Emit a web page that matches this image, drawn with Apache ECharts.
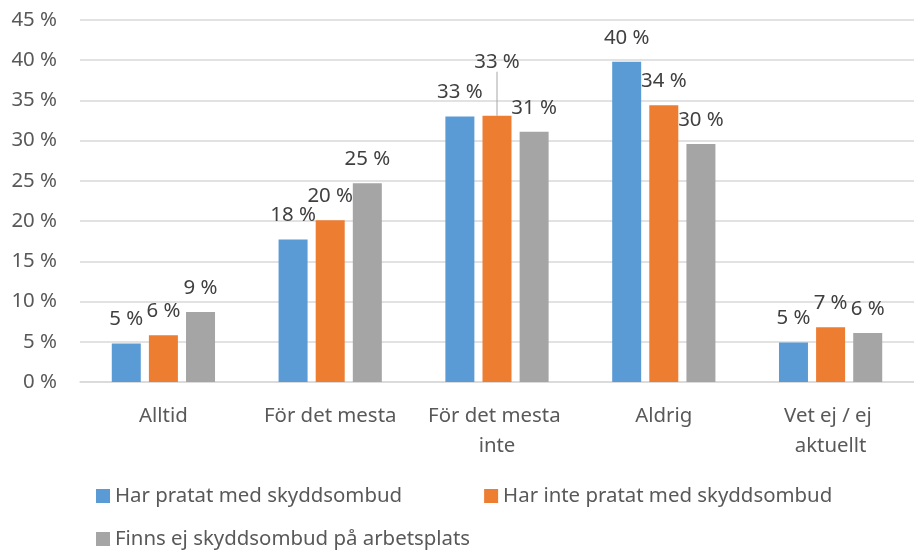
<!DOCTYPE html>
<html>
<head>
<meta charset="utf-8">
<script src="https://cdn.jsdelivr.net/npm/echarts@6/dist/echarts.min.js"></script>
<style>
  html, body { margin: 0; padding: 0; background: #fff; }
  #chart { width: 914px; height: 551px; }
</style>
</head>
<body>
<div id="chart"></div>
<script>
const categories = ['Alltid', 'För det mesta', 'För det mesta inte', 'Aldrig', 'Vet ej / ej aktuellt'];
const seriesNames = [
  'Har pratat med skyddsombud',
  'Har inte pratat med skyddsombud',
  'Finns ej skyddsombud på arbetsplats'
];
const harPratat = [4.8, 17.7, 33.0, 39.8, 4.9];
const harIntePratat = [5.8, 20.1, 33.1, 34.4, 6.8];
const finnsEj = [8.7, 24.7, 31.1, 29.6, 6.1];
const yTicks = [0, 5, 10, 15, 20, 25, 30, 35, 40, 45];

const colors = ['#5b9bd5', '#ed7d31', '#a5a5a5'];
const font = '"Noto Sans", sans-serif';
const textColor = '#595959';
const fs = 20.4;

function makeSeries(name, values, color, extra) {
  return Object.assign({
    name: name,
    type: 'bar',
    data: values,
    barWidth: 29,
    barGap: '28%',
    itemStyle: { color: color },
    label: {
      show: true,
      position: 'top',
      distance: 14,
      fontFamily: font,
      fontSize: fs,
      color: '#404040',
      formatter: p => Math.round(p.value) + ' %'
    },
    labelLine: { show: false }
  }, extra || {});
}

// the orange label in "För det mesta inte" is pushed up with a leader line
const orangeData = harIntePratat.map((v, i) => i === 2
  ? { value: v, labelLine: { show: true, lineStyle: { color: '#a6a6a6', width: 1 } } }
  : v);

const legendText = { fontFamily: font, fontSize: fs, color: textColor };

const chart = echarts.init(document.getElementById('chart'));
chart.setOption({
  animation: false,
  grid: { left: 80, right: 0, top: 20, bottom: 169 },
  legend: [
    {
      data: seriesNames.slice(0, 2),
      left: 96,
      top: 486,
      padding: 0,
      icon: 'rect',
      itemWidth: 14,
      itemHeight: 14,
      itemGap: 82,
      textStyle: legendText
    },
    {
      data: seriesNames.slice(2),
      left: 96,
      top: 529,
      padding: 0,
      icon: 'rect',
      itemWidth: 14,
      itemHeight: 14,
      textStyle: legendText
    }
  ],
  xAxis: {
    type: 'category',
    data: categories,
    axisLine: { lineStyle: { color: '#d9d9d9', width: 1.5 } },
    axisTick: { show: false },
    axisLabel: {
      margin: 19,
      fontFamily: font,
      fontSize: fs,
      color: textColor,
      lineHeight: 30,
      width: 150,
      overflow: 'break',
      interval: 0
    }
  },
  yAxis: {
    type: 'value',
    min: yTicks[0],
    max: yTicks[yTicks.length - 1],
    interval: yTicks[1] - yTicks[0],
    axisLine: { show: false },
    axisTick: { show: false },
    splitLine: { lineStyle: { color: '#d9d9d9', width: 1.5 } },
    axisLabel: {
      margin: 23,
      fontFamily: font,
      fontSize: fs,
      color: textColor,
      formatter: v => v + ' %'
    }
  },
  series: [
    makeSeries(seriesNames[0], harPratat, colors[0]),
    makeSeries(seriesNames[1], orangeData, colors[1], {
      labelLayout: p => (p.dataIndex === 2 ? { dy: -30 } : null)
    }),
    makeSeries(seriesNames[2], finnsEj, colors[2])
  ]
});
</script>
</body>
</html>
